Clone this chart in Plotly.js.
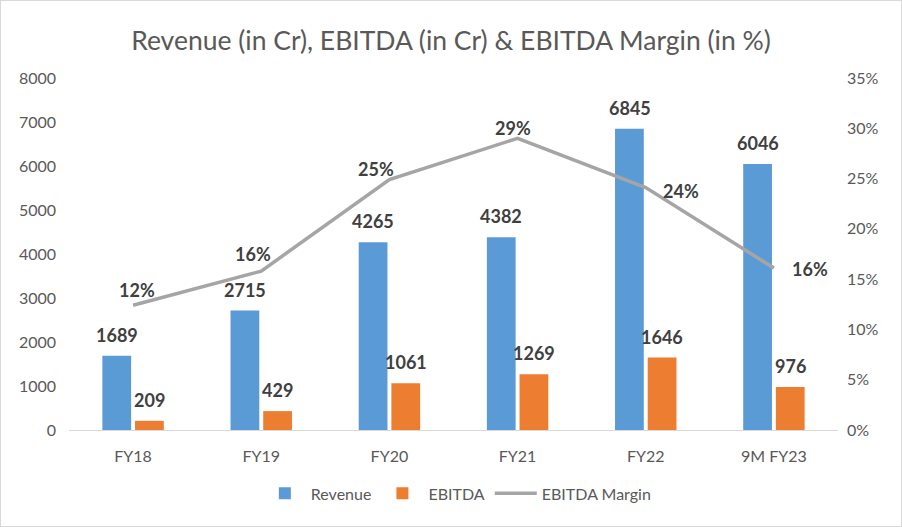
<!DOCTYPE html>
<html>
<head>
<meta charset="utf-8">
<script src="https://cdn.plot.ly/plotly-3.0.1.min.js"></script>
<style>
  html, body { margin: 0; padding: 0; background: #fff; }
  #chart { width: 900px; height: 525px; border: 1px solid #D9D9D9; }
</style>
</head>
<body>
<div id="chart"></div>
<script>
// ---- data ----
const categories = ["FY18", "FY19", "FY20", "FY21", "FY22", "9M FY23"];
const revenue = [1689, 2715, 4265, 4382, 6845, 6046];
const ebitda = [209, 429, 1061, 1269, 1646, 976];
const margin = [12.4, 15.8, 24.9, 29.0, 24.1, 16.1];   // %
const marginLabels = ["12%", "16%", "25%", "29%", "24%", "16%"];
const leftTicks = [0, 1000, 2000, 3000, 4000, 5000, 6000, 7000, 8000];
const rightTicks = [0, 5, 10, 15, 20, 25, 30, 35];

// ---- styles ----
const FONT = "Lato, 'Open Sans', sans-serif";
const labelFont = { family: FONT, size: 18, color: "#404040", weight: "bold" };
const marginShift = [[4, 15], [-8, 17], [-13, 11], [-5, 10], [35, -3], [36, -1]];
const barShift = 16.25;

const traces = [
  {
    type: "bar", name: "Revenue", x: categories, y: revenue,
    marker: { color: "#5B9BD5" }, hoverinfo: "x+y"
  },
  {
    type: "bar", name: "EBITDA", x: categories, y: ebitda,
    marker: { color: "#ED7D31" }, hoverinfo: "x+y"
  },
  {
    type: "scatter", mode: "lines", name: "EBITDA Margin", x: categories, y: margin,
    yaxis: "y2", line: { color: "#A5A5A5", width: 3.5 }, hoverinfo: "x+y"
  }
];

const annotations = [];
categories.forEach((c, i) => {
  annotations.push({
    x: c, y: revenue[i], xref: "x", yref: "y", text: String(revenue[i]),
    showarrow: false, xanchor: "center", yanchor: "bottom",
    xshift: -barShift, yshift: 8, font: labelFont
  });
  annotations.push({
    x: c, y: ebitda[i], xref: "x", yref: "y", text: String(ebitda[i]),
    showarrow: false, xanchor: "center", yanchor: "bottom",
    xshift: barShift, yshift: 8, font: labelFont
  });
  annotations.push({
    x: c, y: margin[i], xref: "x", yref: "y2", text: marginLabels[i],
    showarrow: false, xanchor: "center", yanchor: "middle",
    xshift: marginShift[i][0], yshift: marginShift[i][1], font: labelFont
  });
});

const layout = {
  width: 900, height: 525,
  margin: { l: 68, r: 63, t: 77, b: 96 },
  paper_bgcolor: "#fff", plot_bgcolor: "#fff",
  font: { family: FONT, size: 16, color: "#595959" },
  title: {
    text: "Revenue (in Cr), EBITDA (in Cr) &amp; EBITDA Margin (in %)",
    font: { family: FONT, size: 26.5, color: "#595959" },
    x: 0.5, xanchor: "center", y: 0.925, yanchor: "middle"
  },
  barmode: "group", bargap: 0.49, bargroupgap: 0.12,
  showlegend: true,
  legend: {
    orientation: "h", x: 0.505, xanchor: "center", y: -0.18, yanchor: "middle",
    font: { family: FONT, size: 16, color: "#595959" }, itemwidth: 42,
    traceorder: "normal"
  },
  xaxis: {
    type: "category", showgrid: false, zeroline: false,
    showline: true, linecolor: "#D9D9D9", linewidth: 1,
    ticks: "", ticklabelstandoff: 12,
    tickfont: { family: FONT, size: 16, color: "#595959" }
  },
  yaxis: {
    range: [0, 8000], tickvals: leftTicks, ticktext: leftTicks.map(String),
    showgrid: false, zeroline: false, showline: false, ticks: "",
    ticklabelstandoff: 12,
    tickfont: { family: FONT, size: 16, color: "#595959" }
  },
  yaxis2: {
    overlaying: "y", side: "right", range: [0, 35],
    tickvals: rightTicks, ticktext: rightTicks.map(v => v + "%"),
    showgrid: false, zeroline: false, showline: false, ticks: "",
    ticklabelstandoff: 8,
    tickfont: { family: FONT, size: 16, color: "#595959" }
  },
  annotations: annotations
};

Plotly.newPlot("chart", traces, layout, { displayModeBar: false, staticPlot: true });
</script>
</body>
</html>
